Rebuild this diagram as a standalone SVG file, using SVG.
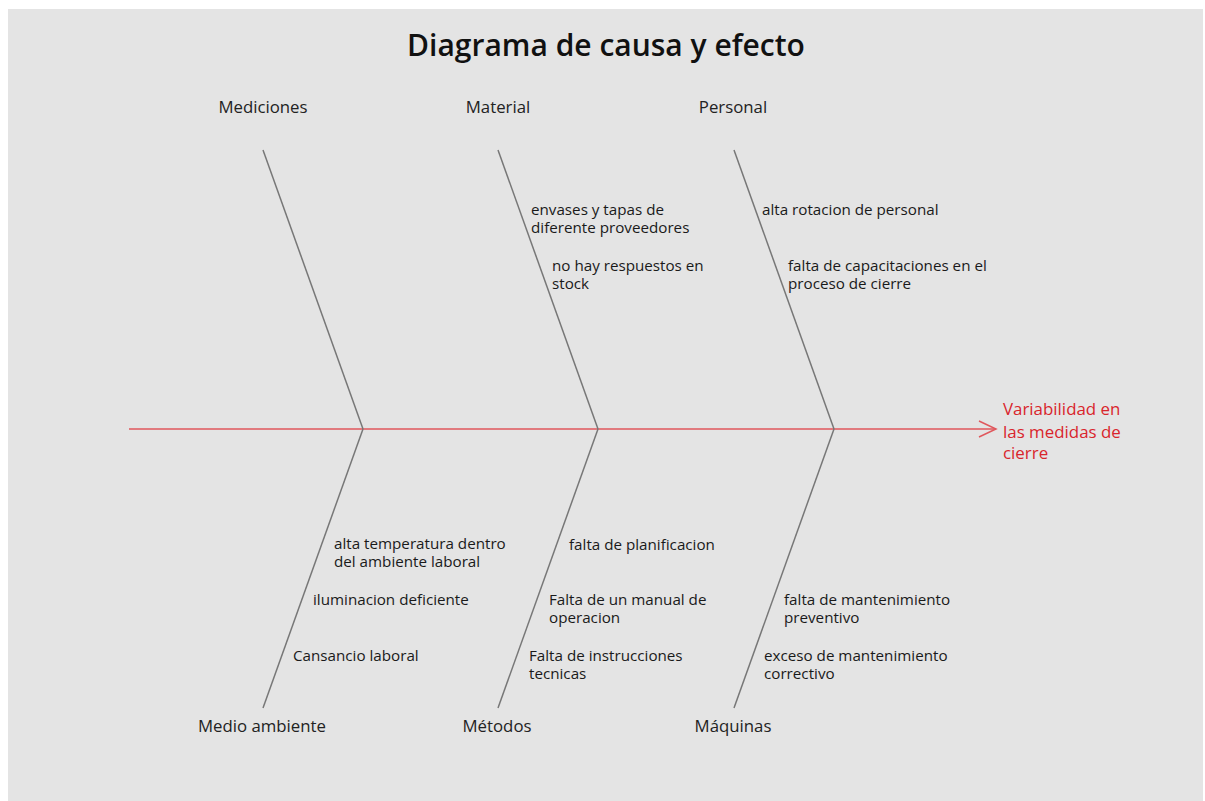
<svg xmlns="http://www.w3.org/2000/svg" width="1205" height="801" viewBox="0 0 1205 801">
<style>
.t{font-family:"Open Sans","Noto Sans","Liberation Sans",sans-serif;font-size:15.2px;fill:#1a1a1a}
.c{font-family:"Open Sans","Noto Sans","Liberation Sans",sans-serif;font-size:16.8px;fill:#222;text-anchor:middle}
.r{font-family:"Open Sans","Noto Sans","Liberation Sans",sans-serif;font-size:16.9px;fill:#d9252c}
.title{font-family:"Open Sans","Noto Sans","Liberation Sans",sans-serif;font-size:30px;font-weight:600;fill:#111;text-anchor:middle}
.bone{stroke:#777;stroke-width:1.5;fill:none}
.spine{stroke:#e0575c;stroke-width:1.5;fill:none}
</style>
<defs>
<marker id="ah" viewBox="0 0 20 20" refX="18" refY="10" markerWidth="20" markerHeight="20" markerUnits="userSpaceOnUse" orient="auto">
<path d="M1,2 L18,10 L1,18" fill="none" stroke="#e0575c" stroke-width="1.5"/>
</marker>
</defs>
<rect x="0" y="0" width="1205" height="801" fill="#ffffff"/>
<rect x="8" y="9" width="1195" height="800" fill="#e4e4e4"/>
<text class="title" x="606" y="56">Diagrama de causa y efecto</text>
<g id="connectors">
<line class="spine" x1="129" y1="429" x2="996" y2="429" marker-end="url(#ah)"/>
<line class="bone" x1="263" y1="150" x2="363" y2="429"/>
<line class="bone" x1="498" y1="150" x2="598" y2="429"/>
<line class="bone" x1="734" y1="150" x2="834" y2="429"/>
<line class="bone" x1="363" y1="429" x2="263" y2="708"/>
<line class="bone" x1="598" y1="429" x2="498" y2="708"/>
<line class="bone" x1="834" y1="429" x2="734" y2="708"/>
</g>
<g id="mediciones"><text class="c" x="263" y="113">Mediciones</text></g>
<g id="material">
<text class="c" x="498" y="113">Material</text>
<text class="t" x="531" y="215">envases y tapas de</text>
<text class="t" x="531" y="233">diferente proveedores</text>
<text class="t" x="552" y="271">no hay respuestos en</text>
<text class="t" x="552" y="289">stock</text>
</g>
<g id="personal">
<text class="c" x="733" y="113">Personal</text>
<text class="t" x="762" y="215">alta rotacion de personal</text>
<text class="t" x="788" y="271">falta de capacitaciones en el</text>
<text class="t" x="788" y="289">proceso de cierre</text>
</g>
<g id="medio-ambiente">
<text class="c" x="262" y="732">Medio ambiente</text>
<text class="t" x="334" y="549">alta temperatura dentro</text>
<text class="t" x="334" y="567">del ambiente laboral</text>
<text class="t" x="313" y="605">iluminacion deficiente</text>
<text class="t" x="293" y="661">Cansancio laboral</text>
</g>
<g id="metodos">
<text class="c" x="497" y="732">Métodos</text>
<text class="t" x="569" y="550">falta de planificacion</text>
<text class="t" x="549" y="605">Falta de un manual de</text>
<text class="t" x="549" y="623">operacion</text>
<text class="t" x="529" y="661">Falta de instrucciones</text>
<text class="t" x="529" y="679">tecnicas</text>
</g>
<g id="maquinas">
<text class="c" x="733" y="732">Máquinas</text>
<text class="t" x="784" y="605">falta de mantenimiento</text>
<text class="t" x="784" y="623">preventivo</text>
<text class="t" x="764" y="661">exceso de mantenimiento</text>
<text class="t" x="764" y="679">correctivo</text>
</g>
<g id="efecto">
<text class="r" x="1003" y="415">Variabilidad en</text>
<text class="r" x="1003" y="438">las medidas de</text>
<text class="r" x="1003" y="459">cierre</text>
</g>
</svg>
